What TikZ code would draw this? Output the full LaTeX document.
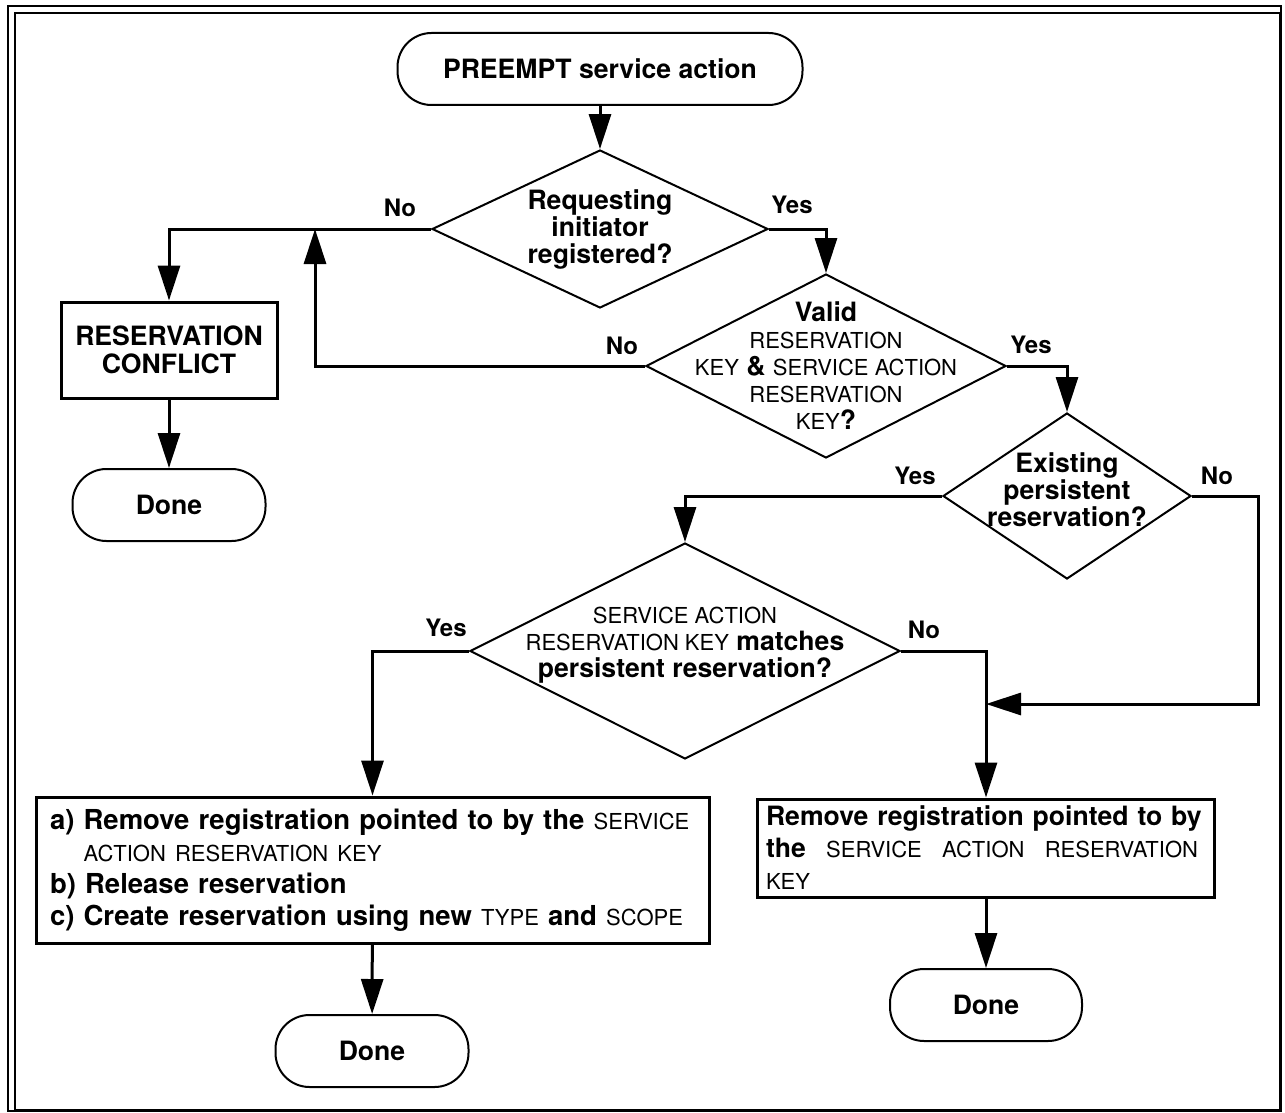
\documentclass[tikz,border=0pt]{standalone}
\usepackage{fontspec}
\setmainfont{TeX Gyre Heros}
\usetikzlibrary{arrows.meta, shapes.geometric}

\newcommand{\kw}[1]{{\fontsize{22}{22}\selectfont\mdseries #1}}

\tikzset{
	arr/.style={line width=3pt, -{Triangle[length=35pt,width=22pt]}},
	terminal/.style={draw, line width=2pt, rounded corners=34pt, minimum height=72pt, font=\fontsize{26.6}{28}\selectfont\bfseries},
	decision/.style={draw, diamond, line width=2pt, inner sep=0pt},
	process/.style={draw, line width=3pt, font=\fontsize{26.6}{28}\selectfont\bfseries},
	lbl/.style={font=\fontsize{24}{27}\selectfont\bfseries},
	dtext/.style={font=\fontsize{26.6}{27}\selectfont\bfseries, align=center},
}

\begin{document}
\begin{tikzpicture}[x=1pt, y=-1pt]
			\useasboundingbox (0,0) rectangle (1285,1113);
			\draw[line width=1.5pt] (8,6) rectangle (1281,1111);
			\draw[line width=1.5pt] (15,13) rectangle (1280,1110);
			
			\node[terminal, minimum width=405pt] (start) at (600,69) {PREEMPT service action};
			\node[decision, minimum width=336pt, minimum height=158pt,
				label={[dtext]center:Requesting\\initiator\\registered?}] (regd) at (600,229) {};
			\node[process, minimum width=216pt, minimum height=96pt, align=center] (conflict) at (169,350) {RESERVATION\\CONFLICT};
			\node[terminal, minimum width=193pt] (done1) at (169,505) {Done};
			\node[decision, minimum width=360pt, minimum height=184pt,
				label={[dtext]center:Valid\\\kw{RESERVATION}\\\kw{KEY} \& \kw{SERVICE ACTION}\\\kw{RESERVATION}\\\kw{KEY}?}] (valid) at (826,366) {};
			\node[decision, minimum width=248pt, minimum height=166pt,
				label={[dtext, yshift=6pt]center:Existing\\persistent\\reservation?}] (exist) at (1067,496) {};
			\node[decision, minimum width=430pt, minimum height=216pt,
				label={[dtext, yshift=6pt]center:\kw{SERVICE ACTION}\\\kw{RESERVATION KEY} matches\\persistent reservation?}] (match) at (685,651) {};
			\node[process, minimum width=673pt, minimum height=146pt, text width=645pt, inner xsep=14pt, align=left,
				font=\fontsize{27.5}{32}\selectfont\bfseries] (actA) at (372.5,870)
				{a) Remove registration pointed to by the \kw{SERVICE}\\
				\phantom{a) }\kw{ACTION RESERVATION KEY}\\
				b) Release reservation\\
				c) Create reservation using new \kw{TYPE} and \kw{SCOPE}};
			\node[terminal, minimum width=193pt] (doneA) at (372,1051) {Done};
			\node[process, minimum width=457pt, minimum height=98pt, text width=440pt, inner xsep=8.5pt, inner ysep=3pt, align=left,
				font=\fontsize{26.6}{32}\selectfont\bfseries] (actB) at (986,848)
				{Remove registration pointed to by\\
				\makebox[432pt][l]{the\hfill\kw{SERVICE}\hfill\kw{ACTION}\hfill\kw{RESERVATION}}\\
				\kw{KEY}};
			\node[terminal, minimum width=192pt] (doneB) at (986,1005) {Done};
			
			\coordinate (merge1) at (315,229);
			\coordinate (merge2) at (986,704);
			
			\draw[arr] (start) -- (regd);
			\draw[arr] (regd.east) -| (valid.north);
			\draw[arr] (regd.west) -| (conflict.north);
			\draw[arr] (valid.west) -| (merge1);
			\draw[arr] (conflict) -- (done1);
			\draw[arr] (valid.east) -| (exist.north);
			\draw[arr] (exist.west) -| (match.north);
			\draw[arr] (exist.east) -- ++(66,0) |- (merge2);
			\draw[arr] (match.west) -| (actA.north);
			\draw[arr] (match.east) -| (actB.north);
			\draw[arr] (actA) -- (doneA);
			\draw[arr] (actB) -- (doneB);
			
			\node[lbl] (n1) at (400,208) {No};
			\node[lbl] (y1) at (792,205) {Yes};
			\node[lbl] (n2) at (622,346) {No};
			\node[lbl] (y2) at (1031,345) {Yes};
			\node[lbl] (y3) at (915,476) {Yes};
			\node[lbl] (n3) at (1217,476) {No};
			\node[lbl] (y4) at (446,628) {Yes};
			\node[lbl] (n4) at (924,630) {No};
		\end{tikzpicture}
\end{document}
